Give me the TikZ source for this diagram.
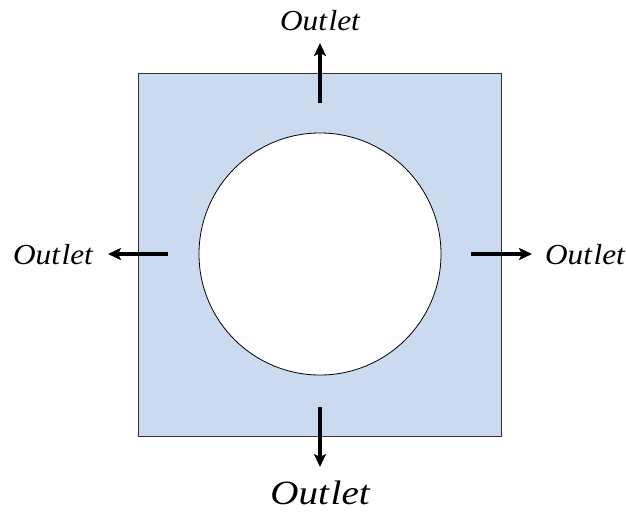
\documentclass[tikz,border=0pt]{standalone}
\usepackage{fontspec}
\setmainfont{Liberation Serif}
\usetikzlibrary{arrows.meta}
\definecolor{panel}{RGB}{204,218,240}
\newcommand{\outword}{Out\kern1.5pt let}
\tikzset{
  flow/.style={line width=3.5pt,-{Stealth[length=13pt,width=12pt,inset=3pt]}},
  lbl/.style={font=\itshape\fontsize{29}{32}\selectfont, inner sep=0pt, text depth=0pt, anchor=base, xscale=1.08},
  lblbig/.style={font=\itshape\fontsize{34}{37}\selectfont, inner sep=0pt, text depth=0pt, anchor=base, xscale=1.15}
}
\begin{document}
\begin{tikzpicture}[x=1pt,y=-1pt]
\useasboundingbox (0,0) rectangle (626,512);
\node[draw=black!80, line width=0.8pt, fill=panel, minimum width=363pt, minimum height=363pt, inner sep=0pt] (sq) at (319.5,254.5) {};
\node[draw=black, line width=0.8pt, fill=white, circle, minimum size=242pt, inner sep=0pt] (hole) at (320,254) {};
\coordinate (ts) at (320,103); \coordinate (te) at (320,43);
\coordinate (ls) at (168,254); \coordinate (le) at (108,254);
\coordinate (rs) at (471,254); \coordinate (re) at (532,254);
\coordinate (bs) at (320,407); \coordinate (be) at (320,467);
\draw[flow] (ts) -- (te);
\draw[flow] (ls) -- (le);
\draw[flow] (rs) -- (re);
\draw[flow] (bs) -- (be);
\node[lbl] (tl) at (320,30) {\outword};
\node[lbl] (ll) at (53,264) {\outword};
\node[lbl] (rl) at (585,264) {\outword};
\node[lblbig] (bl) at (320,504) {\outword};
\end{tikzpicture}
\end{document}
